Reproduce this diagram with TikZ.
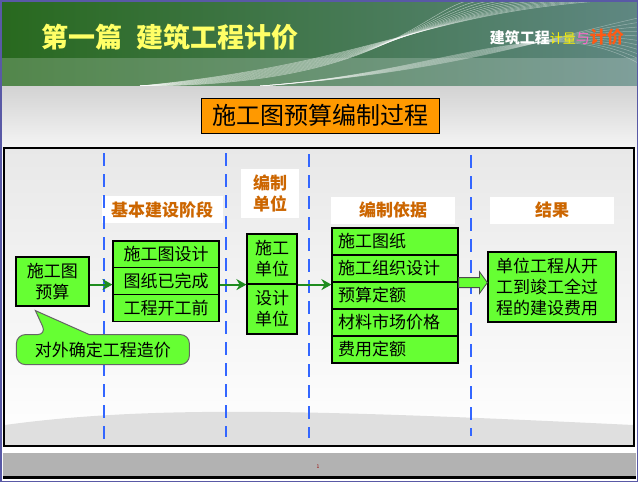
\documentclass[tikz,border=0pt]{standalone}
\usepackage{fontspec}
\setmainfont{Noto Sans CJK SC}
\usetikzlibrary{calc,arrows.meta}
\definecolor{boxgreen}{HTML}{66FF33}
\definecolor{stage}{HTML}{CC6600}
\definecolor{titlebg}{HTML}{FF9900}
\definecolor{flowgreen}{HTML}{1E8C1E}
\definecolor{divider}{HTML}{3366FF}
\definecolor{headyellow}{HTML}{FFFF66}
\definecolor{brandred}{HTML}{FF5A14}
\definecolor{brandpink}{HTML}{FF66CC}

\begin{document}
\begin{tikzpicture}[x=1pt,y=-1pt,
    gbox/.style={draw=black,line width=1.2pt,fill=boxgreen,inner sep=0pt,
      font=\fontsize{17}{21}\selectfont},
    rowone/.style={gbox,minimum width=106,minimum height=27},
    rowtwo/.style={gbox,minimum width=50,minimum height=50,align=center},
    rowthree/.style={gbox,inner xsep=6pt,text width=114pt,minimum height=27,align=left},
    stagelabel/.style={fill=white,text=stage,inner sep=0pt,
      font=\bfseries\fontsize{17}{21}\selectfont},
    flow/.style={draw=flowgreen,line width=2.2pt,-{Stealth[length=10pt,width=11pt]}},
    divline/.style={draw=divider,line width=2.4pt,dash pattern=on 13pt off 8pt},
    bubble/.style={draw=black!60,line width=1pt,fill=boxgreen}]
        \useasboundingbox (0,0) rectangle (638,482);

        \fill[white] (0,0) rectangle (638,482);
        \shade[left color={rgb,255:red,40;green,105;blue,30},
               middle color={rgb,255:red,30;green,210;blue,10},
               right color={rgb,255:red,95;green,135;blue,130}] (0,0) rectangle (638,86);
        \fill[white,opacity=.2] (0,58) rectangle (638,86);
        \foreach \k in {0,2,...,24}
          \draw[white,opacity=.5,line width=.5pt] (140,86) .. controls (380,86-\k) and (420,12) .. (470+6*\k,0);
        \foreach \k in {0,3,...,30}
          \draw[white,opacity=.35,line width=.5pt] (260,86) .. controls (450,72) and (540,40-\k) .. (638,18+1.5*\k);
        \shade[top color=gray!35,bottom color=gray!8] (0,86) rectangle (638,148);
        \fill[white] (0,446) rectangle (638,453);
        \fill[gray!60] (3,453) rectangle (636,476);
        \fill[black] (3,476) rectangle (636,479);
        \draw[gray!70!blue,line width=1.5pt] (0.75,0.75) rectangle (637.25,481.25);

        \shade[top color=gray!18,bottom color=white] (4,148) rectangle (634,446);
        \fill[gray!25] (5,425) .. controls (150,405) and (320,410) .. (633,425) -- (633,445) -- (5,445) -- cycle;
        \draw[line width=2pt] (4,148) rectangle (634,446);

        \path
        (38,37) node[anchor=west,text=headyellow,font=\bfseries\fontsize{27}{30}\selectfont](head) {第一篇\hspace{0.5em}建筑工程计价}
        (624,37) node[anchor=east,inner sep=0pt](brand) {\textcolor{white}{\bfseries\fontsize{15}{17}\selectfont 建筑工程}\textcolor{yellow}{\fontsize{13}{15}\selectfont 计量}\textcolor{brandpink}{\fontsize{14}{16}\selectfont 与}\textcolor{brandred}{\bfseries\fontsize{17}{19}\selectfont 计价}}
        (318,467) node[text=red!60!black,font=\fontsize{5}{6}\selectfont](page) {1}
        (320,115.5) node[draw,fill=titlebg,line width=1pt,minimum width=238,minimum height=35,inner sep=0pt,font=\fontsize{24}{27}\selectfont](title) {施工图预算编制过程}
        ;

        \path
        (162,209.5) node[stagelabel,minimum width=121,minimum height=27](stage) {基本建设阶段}
        (270,193.5) node[stagelabel,minimum width=58,minimum height=49,align=center](unit) {编制\\单位}
        (393,210) node[stagelabel,minimum width=124,minimum height=27](basis) {编制依据}
        (552,210) node[stagelabel,minimum width=124,minimum height=27](outcome) {结果}
        ;

        \draw[divline] (104,153) -- (104,442);
        \draw[divline] (226,153) -- (226,437);
        \draw[divline] (309,154) -- (309,438);
        \draw[divline] (471,155) -- (471,436);

        \path
        (52.5,281.5) node[gbox,minimum width=73,minimum height=49,align=center](pre) {施工图\\预算}
        (166,254.5) node[rowone](s1a) {施工图设计}
        (166,281) node[rowone](s1b) {图纸已完成}
        (166,308) node[rowone](s1c) {工程开工前}
        (272,259) node[rowtwo](u1) {施工\\单位}
        (272,309) node[rowtwo](u2) {设计\\单位}
        (395,241.5) node[rowthree](s3a) {施工图纸}
        (395,268.5) node[rowthree](s3b) {施工组织设计}
        (395,295.5) node[rowthree](s3c) {预算定额}
        (395,322.5) node[rowthree](s3d) {材料市场价格}
        (395,349.5) node[rowthree](s3e) {费用定额}
        (552,287) node[gbox,inner xsep=8pt,text width=112pt,minimum height=70,align=left](res) {单位工程从开\\工到竣工全过\\程的建设费用}
        ;

        \draw[flow] (pre.east |- u1.south) -- (s1b.west |- u1.south);
        \draw[flow] (s1b.east |- u1.south) -- (u1.south west);
        \draw[flow] (u1.south east) -- (s3b.west |- u1.south);

        \coordinate (bt) at (s3b.south east);
        \coordinate (bh) at (s3b.south east -| res.west);
        \draw[fill=boxgreen,draw=black!70,line width=.8pt]
          ($(bt)+(0,-5)$) -- ($(bh)+(-8,-5)$) -- ($(bh)+(-8,-11)$) -- (bh)
          -- ($(bh)+(-8,11)$) -- ($(bh)+(-8,5)$) -- ($(bt)+(0,5)$) -- cycle;

        \coordinate (tip) at ($(pre.south west)+(20,4)$);
        \draw[bubble] ($(tip)+(54,24)$) [rounded corners=9] -- ++(100,0) -- ++(0,30)
          -- ++(-173,0) -- ++(0,-30) -- ($(tip)+(11,24)$) [sharp corners] -- (tip) -- cycle;
        \node[font=\fontsize{17}{21}\selectfont] (bub) at ($(tip)+(67.5,39)$) {对外确定工程造价};
      \end{tikzpicture}
\end{document}
